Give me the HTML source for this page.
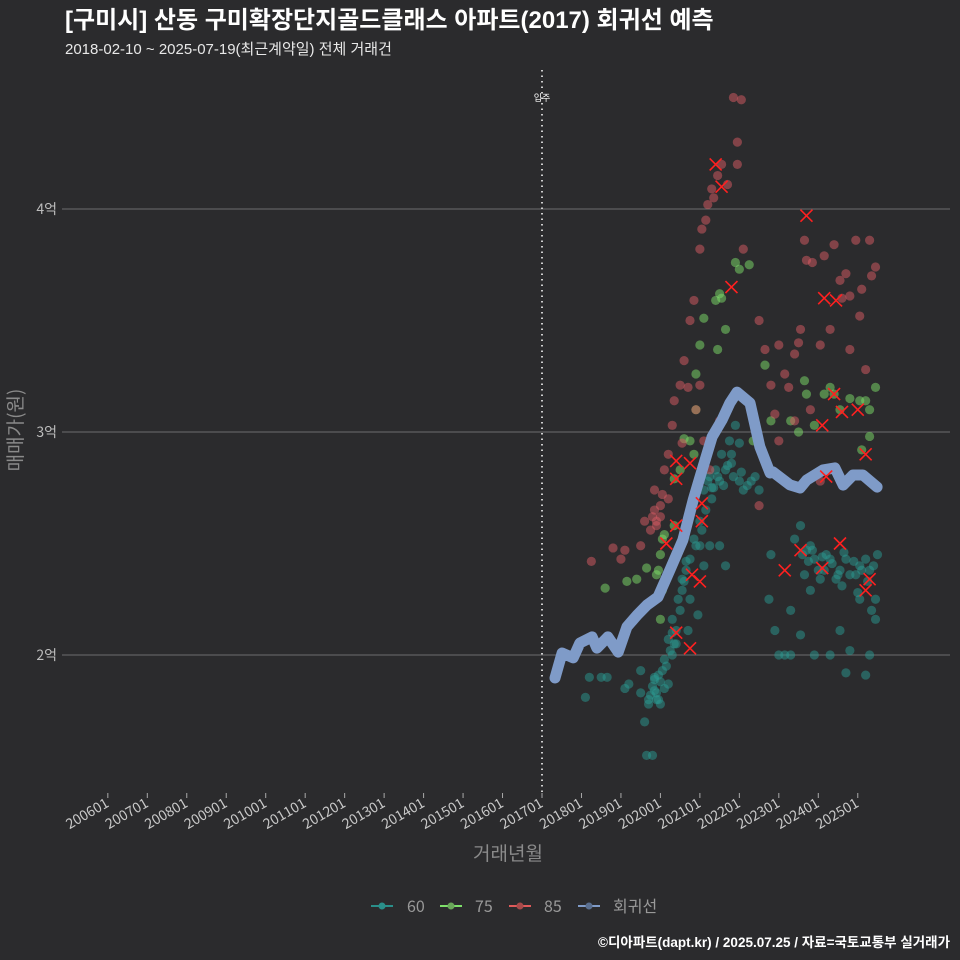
<!DOCTYPE html>
<html><head><meta charset="utf-8"><style>
html,body{margin:0;padding:0;background:#2b2b2d;}
svg{display:block;font-family:"Liberation Sans","Noto Sans CJK KR",sans-serif;}
</style></head><body>
<svg id="chart" width="960" height="960" viewBox="0 0 960 960">
<rect width="960" height="960" fill="#2b2b2d"/>
<text x="65" y="28" fill="#fff" font-size="24" font-weight="bold">[구미시] 산동 구미확장단지골드클래스 아파트(2017) 회귀선 예측</text>
<text x="65" y="54" fill="#e8e8e8" font-size="15">2018-02-10 ~ 2025-07-19(최근계약일) 전체 거래건</text>
<g id="grid"></g>
<g id="xaxis"></g>
<g id="points"></g>
<g id="line"></g>
<g id="marks"></g>
<text transform="translate(22,430) rotate(-90)" text-anchor="middle" fill="#8a8a8a" font-size="19" font-family="Noto Sans CJK KR, sans-serif">매매가(원)</text>
<text x="508" y="860" text-anchor="middle" fill="#8a8a8a" font-size="19" font-family="Noto Sans CJK KR, sans-serif">거래년월</text>
<g font-family="Noto Sans CJK KR, sans-serif">
<g><line x1="371" y1="906" x2="393" y2="906" stroke="#2a8f8a" stroke-width="2"/><circle cx="382" cy="906" r="3.5" fill="#2a8f8a"/><text x="407" y="912" fill="#999" font-size="16">60</text></g>
<g><line x1="440" y1="906" x2="462" y2="906" stroke="#7ee06a" stroke-width="2"/><circle cx="451" cy="906" r="3.5" fill="#6aa85a"/><text x="475" y="912" fill="#999" font-size="16">75</text></g>
<g><line x1="509" y1="906" x2="531" y2="906" stroke="#e05a5a" stroke-width="2"/><circle cx="520" cy="906" r="3.5" fill="#a84a4a"/><text x="544" y="912" fill="#999" font-size="16">85</text></g>
<g><line x1="578" y1="906" x2="600" y2="906" stroke="#7f9bc8" stroke-width="2"/><circle cx="589" cy="906" r="3.5" fill="#5a6f90"/><text x="613" y="912" fill="#999" font-size="16">회귀선</text></g>
</g>
<text x="950" y="947" text-anchor="end" fill="#fff" font-size="13.5" font-weight="bold">©디아파트(dapt.kr) / 2025.07.25 / 자료=국토교통부 실거래가</text>
</svg>
<script>
const yTicks=[2,3,4];
const yTickLabels=["2억","3억","4억"];
const xTickYears=[2006,2007,2008,2009,2010,2011,2012,2013,2014,2015,2016,2017,2018,2019,2020,2021,2022,2023,2024,2025];
const moveInYear=2017;
const s60t=[2018.1,2018.2,2018.5,2018.65,2019.1,2019.2,2019.5,2019.6,2019.65,2019.8,2019.7,2019.85,2019.95,2020.05,2020.1,2020.2,2020.3,2020.3,2020.4,2020.45,2020.55,2020.65,2020.75,2020.9,2021.0,2021.1,2021.25,2021.4,2021.5,2021.65,2021.75,2021.9,2022.0,2022.1,2022.3,2022.5,2019.85,2019.5,2021.0,2021.25,2021.5,2021.1,2021.65,2020.75,2020.95,2020.7,2020.2,2022.8,2022.75,2022.9,2023.0,2023.15,2023.3,2023.4,2023.55,2023.7,2023.8,2023.9,2024.05,2024.15,2024.3,2024.45,2024.55,2024.7,2024.8,2024.95,2025.05,2025.2,2025.3,2025.45,2025.5,2025.45,2024.3,2023.9,2023.55,2023.3,2024.55,2024.8,2025.2,2024.7,2025.3,2023.8,2025.05,2020.3,2020.35,2019.9,2020.0,2021.3,2021.8,
2019.75,2019.8,2019.9,2019.95,2020.0,2020.1,2019.7,2019.85,2020.15,2020.25,2020.4,2020.5,2020.6,2021.2,2021.35,2021.45,2021.6,2021.7,2021.85,2022.05,2022.2,2022.4,2021.15,2021.3,2021.55,2021.8,2022.0,2023.6,2023.75,2023.85,2024.0,2024.2,2024.35,2024.5,2024.65,2024.9,2025.1,2025.25,2025.4,2023.65,2024.1,2024.6,2025.0,2025.35,2020.55,2020.65,2020.85,2021.05];
const s60v=[1.81,1.9,1.9,1.9,1.85,1.87,1.83,1.7,1.55,1.55,1.8,1.84,1.91,1.93,1.98,2.07,2.16,2.0,2.11,2.25,2.29,2.38,2.43,2.49,2.6,2.74,2.8,2.83,2.78,2.83,2.96,3.03,2.78,2.74,2.78,2.74,1.89,1.93,2.49,2.49,2.49,2.4,2.4,2.25,2.18,2.11,1.87,2.45,2.25,2.11,2.0,2.0,2.0,2.52,2.58,2.47,2.49,2.43,2.34,2.38,2.43,2.34,2.38,2.43,2.36,2.36,2.4,2.43,2.38,2.25,2.45,2.16,2.0,2.0,2.09,2.2,2.11,2.02,1.91,1.92,2.0,2.29,2.25,2.1,2.05,1.8,1.78,2.75,2.9,
1.82,1.86,1.83,1.8,1.88,1.85,1.78,1.9,1.95,2.02,2.05,2.2,2.33,2.78,2.75,2.8,2.76,2.85,2.8,2.82,2.76,2.8,2.65,2.7,2.9,2.86,2.95,2.45,2.42,2.47,2.38,2.45,2.41,2.36,2.46,2.42,2.38,2.33,2.4,2.36,2.44,2.31,2.28,2.2,2.34,2.42,2.52,2.56];
const s75t=[2018.6,2019.15,2019.4,2019.65,2019.9,2020.0,2020.1,2020.35,2020.35,2020.5,2020.75,2020.85,2020.9,2020.9,2021.0,2021.1,2021.4,2021.55,2021.9,2022.0,2022.25,2021.45,2021.65,2022.65,2022.35,2023.3,2023.65,2023.7,2024.15,2024.4,2024.55,2025.05,2025.2,2025.3,2025.45,2025.3,2025.1,2023.9,2022.8,2020.0,2020.05,2019.95,2020.05,2020.6,2021.5,2024.3,2024.8,2023.5];
const s75v=[2.3,2.33,2.34,2.39,2.36,2.45,2.54,2.58,2.79,2.83,2.96,2.9,3.1,3.26,3.39,3.51,3.59,3.6,3.76,3.73,3.75,3.37,3.46,3.3,2.96,3.05,3.23,3.17,3.17,3.17,3.1,3.14,3.14,3.1,3.2,2.98,2.92,3.03,3.05,2.16,2.29,2.38,2.52,2.97,3.62,3.2,3.15,3.0];
const s85t=[2018.25,2018.8,2019.0,2019.1,2019.5,2019.6,2019.75,2019.85,2020.0,2019.85,2020.1,2020.2,2020.3,2020.35,2020.5,2020.6,2020.75,2020.85,2021.0,2021.05,2021.2,2021.3,2021.45,2021.55,2021.7,2021.85,2022.05,2021.95,2021.95,2022.1,2022.5,2022.65,2023.0,2023.15,2023.4,2023.55,2023.65,2023.7,2023.85,2024.15,2024.4,2024.55,2024.7,2024.8,2024.95,2025.1,2025.3,2025.45,2025.05,2023.4,2023.8,2023.0,2024.05,2022.5,2021.1,2021.25,2020.9,2021.0,2021.5,2022.8,2022.9,2024.05,2024.3,2024.8,2025.2,2019.9,2020.0,2020.2,2019.8,2019.9,2020.05,2020.55,2020.7,2021.15,2021.35,2023.25,2023.5,2024.6,2025.35];
const s85v=[2.42,2.48,2.43,2.47,2.49,2.6,2.56,2.65,2.67,2.74,2.83,2.9,3.03,3.14,3.21,3.32,3.5,3.59,3.82,3.91,4.02,4.09,4.15,4.2,4.11,4.5,4.49,4.3,4.2,3.82,3.5,3.37,3.39,3.26,3.35,3.46,3.86,3.77,3.76,3.79,3.84,3.68,3.71,3.61,3.86,3.64,3.86,3.74,3.52,3.05,3.1,2.96,2.78,2.67,2.96,2.83,3.1,3.21,3.05,3.21,3.08,3.39,3.46,3.37,3.28,2.6,2.62,2.7,2.62,2.58,2.72,2.95,3.2,3.95,4.05,3.2,3.4,3.6,3.7];
const regT=[2017.33,2017.51,2017.79,2017.96,2018.27,2018.39,2018.67,2018.93,2019.15,2019.41,2019.66,2019.94,2020.24,2020.57,2020.83,2021.08,2021.31,2021.56,2021.76,2021.94,2022.27,2022.52,2022.78,2022.85,2023.28,2023.54,2023.71,2024.12,2024.42,2024.63,2024.88,2025.13,2025.49];
const regV=[1.897,2.009,1.987,2.054,2.081,2.031,2.081,2.013,2.126,2.179,2.224,2.26,2.381,2.516,2.695,2.843,2.978,3.054,3.13,3.179,3.13,2.933,2.816,2.821,2.763,2.749,2.785,2.83,2.839,2.762,2.807,2.807,2.753];
const markT=[2021.4,2021.55,2023.7,2021.8,2024.15,2024.45,2024.1,2024.4,2024.6,2025.0,2025.2,2020.4,2020.75,2020.4,2020.4,2020.15,2021.05,2021.05,2020.8,2021.0,2020.4,2020.75,2023.15,2023.55,2024.1,2024.55,2025.3,2025.2,2024.2];
const markV=[4.2,4.1,3.97,3.65,3.6,3.59,3.03,3.17,3.09,3.1,2.9,2.87,2.86,2.79,2.58,2.5,2.68,2.6,2.36,2.33,2.1,2.03,2.38,2.47,2.39,2.5,2.34,2.29,2.8];

const NS="http://www.w3.org/2000/svg";
const X=t=>542+(t-2017)*39.47;
const Y=v=>655-(v-2)*223;
function mk(tag,parent,attrs){const e=document.createElementNS(NS,tag);for(const k in attrs)e.setAttribute(k,attrs[k]);parent.appendChild(e);return e;}
const grid=document.getElementById('grid');
yTicks.forEach((v,i)=>{
  const l=mk('line',grid,{x1:62,x2:950,y1:Y(v),y2:Y(v),stroke:'#6e6e6e','stroke-width':1});
  
  
  const t=mk('text',grid,{x:57,y:Y(v)+5,'text-anchor':'end',fill:'#bdbdbd','font-size':14,'font-family':'Noto Sans CJK KR, sans-serif'});
  t.textContent=yTickLabels[i];
  
  
});
const xa=document.getElementById('xaxis');
const ml=mk('line',xa,{x1:X(moveInYear),x2:X(moveInYear),y1:70,y2:792,stroke:'#cfcfcf','stroke-width':2,'stroke-dasharray':'1.5,4'});


const mt=mk('text',xa,{x:X(moveInYear),y:101,'text-anchor':'middle',fill:'#fff','font-size':9});
mt.textContent='입주';


xTickYears.forEach(yr=>{
  const x=X(yr);
  const tk=mk('line',xa,{x1:x,x2:x,y1:793,y2:798,stroke:'#aaa','stroke-width':1});
  
  
  const t=mk('text',xa,{x:x+2,y:806,'text-anchor':'end',fill:'#c8c8c8','font-size':14,'font-family':'Noto Sans CJK KR, sans-serif',transform:`rotate(-30 ${x+2} 806)`});
  t.textContent=yr+'01';
  
  
});
const pts=document.getElementById('points');
function series(ts,vs,color,name){
  ts.forEach((t,i)=>{
    const c=mk('circle',pts,{cx:X(t),cy:Y(vs[i]),r:4.6,fill:color,'fill-opacity':0.5});
    
    
  });
}
series(s60t,s60v,'#2a9a92','point-60');
series(s75t,s75v,'#7ee06a','point-75');
series(s85t,s85v,'#d95c64','point-85');
const lg=document.getElementById('line');
const d=regT.map((t,i)=>(i?'L':'M')+X(t).toFixed(1)+','+Y(regV[i]).toFixed(1)).join(' ');
const rl=mk('path',lg,{d:d,fill:'none',stroke:'#7f9bc8','stroke-width':11,'stroke-linejoin':'round','stroke-linecap':'round'});


const mg=document.getElementById('marks');
markT.forEach((t,i)=>{
  const x=X(t),y=Y(markV[i]);
  const p=mk('path',mg,{d:`M${x-6},${y-6}L${x+6},${y+6}M${x-6},${y+6}L${x+6},${y-6}`,stroke:'#ff2020','stroke-width':1.6});
  
  
});
</script>
</body></html>
